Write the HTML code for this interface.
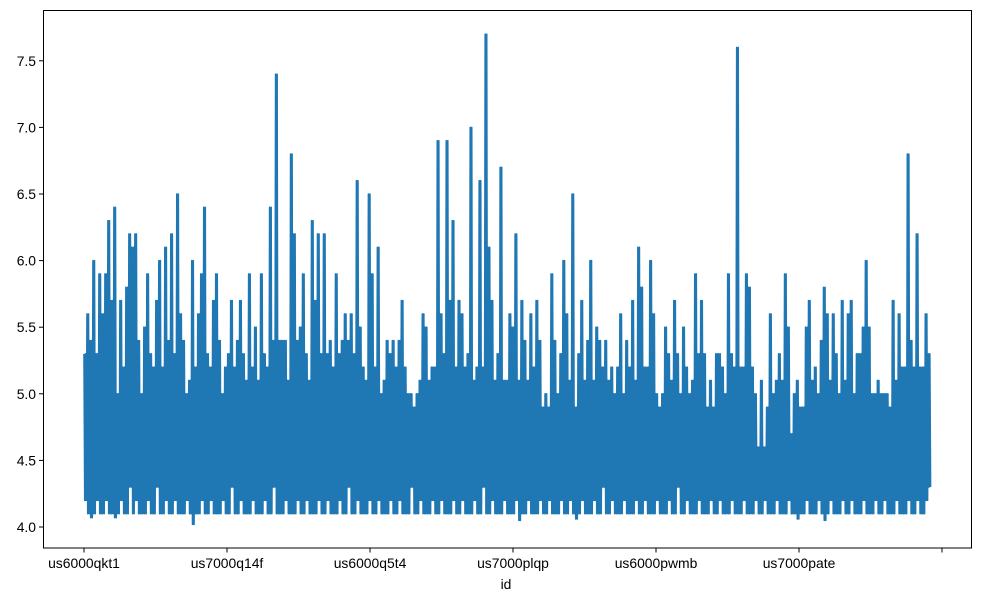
<!DOCTYPE html>
<html><head><meta charset="utf-8"><style>
body{margin:0;background:#fff;font-family:"Liberation Sans",sans-serif}
svg text{font-family:"Liberation Sans",sans-serif;font-size:13.9px;fill:#000}
</style></head><body>
<svg id="chart" width="981" height="602" viewBox="0 0 981 602" xmlns="http://www.w3.org/2000/svg">
<rect x="43" y="10" width="929" height="538" fill="#fff"/>
<g id="series"></g>
<rect x="43.5" y="10.5" width="928" height="537.5" fill="none" stroke="#000" stroke-width="1"/>
<g id="yaxis"></g>
<g id="xaxis"></g>
<text x="506" y="589" text-anchor="middle">id</text>
</svg>
<script>
const xTickLabels = ["us6000qkt1","us7000q14f","us6000q5t4","us7000plqp","us6000pwmb","us7000pate",""];
const xTickIndex = [0,500,1000,1500,2000,2500,3000];
const yTicks = [4.0,4.5,5.0,5.5,6.0,6.5,7.0,7.5];
const totalRecords = 2960;
const highs = [
5.3,5.6,5.4,6.0,5.3,5.9,5.6,5.9,6.3,5.7,6.4,5.0,5.7,5.2,5.8,6.2,
6.1,6.2,5.4,5.0,5.5,5.9,5.3,5.2,5.7,6.0,5.2,6.1,5.4,6.2,5.3,6.5,
5.6,5.4,5.0,5.1,6.0,5.2,5.6,5.9,6.4,5.3,5.2,5.7,5.9,5.4,5.0,5.2,5.3,5.7,5.2,5.4,5.7,5.3,5.1,5.9,5.2,5.5,5.1,5.9,5.3,5.2,6.4,5.4,7.4,5.4,5.4,5.4,5.1,6.8,6.2,5.4,5.5,5.9,5.3,5.1,6.3,5.7,6.2,5.3,6.2,5.3,5.4,5.2,5.9,5.3,5.4,5.6,5.4,5.6,5.3,6.6,5.5,5.2,5.1,6.5,
5.9,5.2,6.1,5.0,5.1,5.4,5.3,5.4,5.2,5.4,5.7,5.2,5.0,5.0,4.9,5.0,5.1,5.6,5.5,5.1,5.2,5.2,6.9,5.6,5.3,6.9,5.7,6.3,5.2,5.7,5.6,5.2,5.3,7.0,5.1,5.2,6.6,5.2,7.7,6.1,5.7,5.1,5.3,6.7,5.1,5.1,5.6,5.5,6.2,5.1,5.7,5.4,5.1,5.6,5.2,5.7,5.4,4.9,5.0,4.9,5.9,5.4,5.0,5.3,6.0,5.6,5.1,6.5,4.9,5.3,5.7,5.1,5.4,6.0,5.1,5.5,5.4,5.2,5.4,5.1,5.2,5.0,5.2,5.6,5.0,5.4,5.2,5.7,5.1,6.1,5.8,5.2,5.2,6.0,
5.6,5.0,4.9,5.0,5.5,5.3,5.1,5.7,5.3,5.0,5.5,5.2,5.0,5.1,5.9,5.3,5.7,5.3,4.9,5.1,4.9,5.3,5.3,5.2,5.0,5.9,5.3,5.2,7.6,5.2,5.2,5.9,5.8,5.2,5.0,4.6,5.1,4.6,4.9,5.6,5.0,5.1,5.3,5.1,5.9,5.5,4.7,5.0,5.1,4.9,4.9,5.5,5.7,5.1,5.2,5.0,5.4,5.8,5.6,5.1,5.6,5.3,5.0,5.7,5.1,5.6,5.7,5.0,5.3,5.3,5.5,6.0,5.5,5.0,5.0,5.1,5.0,5.0,5.0,4.9,5.7,5.1,5.6,5.2,5.2,6.8,5.4,5.2,6.2,5.2,5.2,5.6,5.3
];
const lows = [
4.2,4.1,4.07,4.1,4.2,4.1,4.1,4.2,4.1,4.1,4.07,4.1,4.2,4.1,4.1,4.3,4.1,4.2,4.1,4.1,
4.1,4.2,4.1,4.1,4.3,4.1,4.1,4.2,4.1,4.1,4.2,4.1,4.1,4.1,4.2,4.1,4.02,4.1,4.1,4.2,
4.1,4.1,4.2,4.1,4.1,4.1,4.2,4.1,4.1,4.3,4.1,4.1,4.2,4.1,4.1,4.1,4.2,4.1,4.1,4.1,
4.2,4.1,4.1,4.3,4.1,4.1,4.1,4.2,4.1,4.1,4.1,4.2,4.1,4.1,4.2,4.1,4.1,4.1,4.2,4.1,
4.1,4.2,4.1,4.1,4.1,4.2,4.1,4.1,4.3,4.1,4.1,4.2,4.1,4.1,4.1,4.2,4.1,4.1,4.2,4.1,
4.1,4.1,4.2,4.1,4.1,4.2,4.1,4.1,4.1,4.3,4.1,4.1,4.2,4.1,4.1,4.1,4.2,4.1,4.1,4.2,
4.1,4.1,4.1,4.2,4.1,4.1,4.2,4.1,4.1,4.1,4.2,4.1,4.1,4.3,4.1,4.1,4.2,4.1,4.1,4.1,
4.2,4.1,4.1,4.1,4.2,4.05,4.1,4.1,4.2,4.1,4.1,4.1,4.2,4.1,4.1,4.2,4.1,4.1,4.1,4.2,
4.1,4.1,4.2,4.1,4.06,4.1,4.2,4.1,4.1,4.1,4.2,4.1,4.1,4.3,4.1,4.1,4.2,4.1,4.1,4.1,
4.2,4.1,4.1,4.1,4.2,4.1,4.1,4.2,4.1,4.1,4.1,4.2,4.1,4.1,4.1,4.2,4.1,4.1,4.3,4.1,
4.1,4.2,4.1,4.1,4.1,4.2,4.1,4.1,4.1,4.2,4.1,4.1,4.2,4.1,4.1,4.1,4.2,4.1,4.1,4.1,
4.2,4.1,4.1,4.1,4.2,4.1,4.1,4.2,4.1,4.1,4.1,4.2,4.1,4.1,4.1,4.2,4.1,4.1,4.06,4.1,
4.1,4.2,4.1,4.1,4.1,4.2,4.1,4.05,4.1,4.2,4.1,4.1,4.1,4.2,4.1,4.1,4.2,4.1,4.1,4.1,
4.2,4.1,4.1,4.1,4.2,4.1,4.1,4.2,4.1,4.1,4.1,4.2,4.1,4.1,4.1,4.2,4.1,4.1,4.2,4.1,
4.1,4.2,4.3
];
const NS="http://www.w3.org/2000/svg";
function xScale(idx){return 84 + idx/500*143;}
function yScale(v){return 527 - (v-4)*133.2;}
const series=[];
for(let i=0;i<highs.length;i++){
  const lo=lows[i]!==undefined?lows[i]:4.1;
  series.push(highs[i]);series.push(lo);series.push(highs[i]);series.push(lo);
}
const pts=series.map((v,j)=>xScale(j*totalRecords/(series.length-1)).toFixed(2)+","+yScale(v).toFixed(2)).join(" ");
const line=document.createElementNS(NS,"polyline");


line.setAttribute("points",pts);line.setAttribute("fill","none");line.setAttribute("stroke","#1f77b4");
line.setAttribute("stroke-width","1.6");line.setAttribute("stroke-linejoin","round");
document.getElementById("series").appendChild(line);
const ya=document.getElementById("yaxis");
yTicks.forEach(t=>{
  const y=yScale(t);
  const tk=document.createElementNS(NS,"line");
  
  
  tk.setAttribute("x1",43.5);tk.setAttribute("x2",39);tk.setAttribute("y1",y);tk.setAttribute("y2",y);tk.setAttribute("stroke","#000");
  ya.appendChild(tk);
  const tx=document.createElementNS(NS,"text");
  
  
  tx.setAttribute("x",36);tx.setAttribute("y",y+5);tx.setAttribute("text-anchor","end");
  tx.textContent=t.toFixed(1);ya.appendChild(tx);
});
const xa=document.getElementById("xaxis");
xTickIndex.forEach((ix,i)=>{
  const x=xScale(ix);
  const tk=document.createElementNS(NS,"line");
  
  
  tk.setAttribute("x1",x);tk.setAttribute("x2",x);tk.setAttribute("y1",548);tk.setAttribute("y2",552.5);tk.setAttribute("stroke","#000");
  xa.appendChild(tk);
  const tx=document.createElementNS(NS,"text");
  
  
  tx.setAttribute("x",x);tx.setAttribute("y",568);tx.setAttribute("text-anchor","middle");
  tx.textContent=xTickLabels[i];xa.appendChild(tx);
});
</script>
</body></html>
